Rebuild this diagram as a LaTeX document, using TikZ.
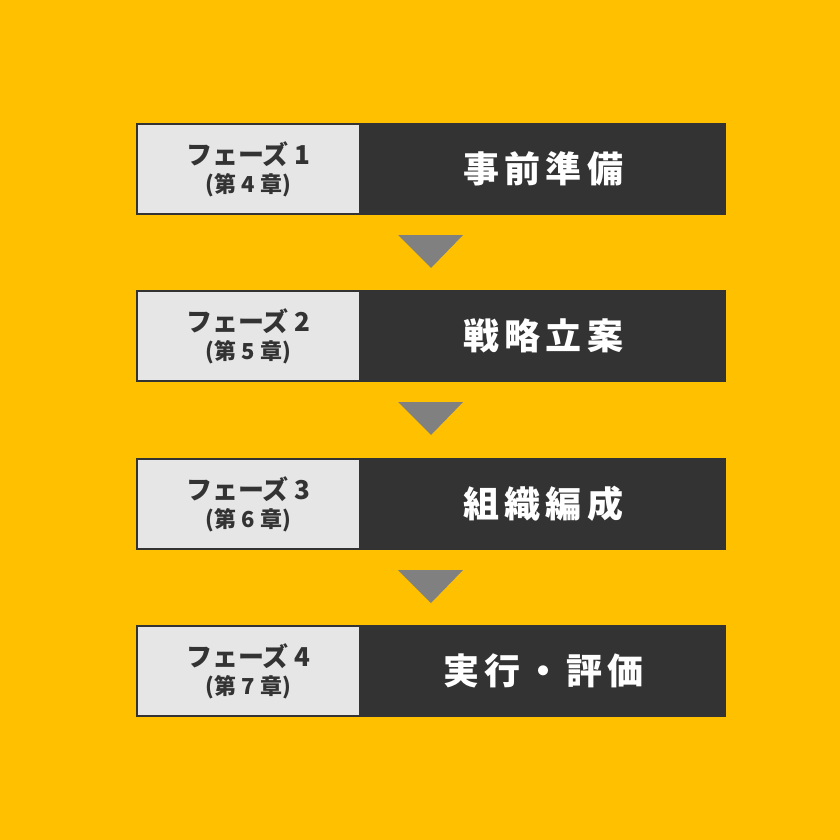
\documentclass[tikz,border=0pt]{standalone}
\usepackage{fontspec}
\newfontfamily\cjk{Noto Sans CJK JP}
\newfontfamily\cjkwide{Noto Sans CJK JP}[LetterSpace=14]
\definecolor{bgyellow}{RGB}{255,192,0}
\definecolor{boxgray}{RGB}{230,230,230}
\definecolor{boxdark}{RGB}{51,51,51}
\definecolor{arrowgray}{RGB}{128,128,128}
\tikzset{
	phasebox/.style={draw=boxdark, line width=1pt, fill=boxgray, minimum width=111.5pt, minimum height=45pt, inner sep=0pt, align=center, text=boxdark},
	titlebox/.style={draw=boxdark, line width=1pt, fill=boxdark, minimum width=181.5pt, minimum height=45pt, inner sep=0pt, text=white, font=\cjkwide\bfseries\fontsize{18}{20}\selectfont},
}
\begin{document}
\begin{tikzpicture}[x=0.5pt,y=-0.5pt]
		\fill [bgyellow] (0,0) rectangle (840,840);
		\useasboundingbox (0,0) rectangle (840,840);
		
		% phases
		\foreach \i/\ch/\name/\y in {1/4/事前準備/169, 2/5/戦略立案/336, 3/6/組織編成/504, 4/7/実行・評価/671} {
			\node [titlebox] (title\i) at (543.5,\y) {\name\hspace{-2.5pt}};
			\node [phasebox] (phase\i) at (248.5,\y) {{\cjk\bfseries\fontsize{13}{15}\selectfont フェーズ \i}\\[2pt]{\cjk\bfseries\fontsize{11}{13}\selectfont (第 \ch\ 章)}};
		}
		
		% arrows between phases
		\foreach \y in {169, 336, 504} {
			\fill [arrowgray] (398,\y+66) -- (463,\y+66) -- (431,\y+99) -- cycle;
		}
		
		\end{tikzpicture}
\end{document}
